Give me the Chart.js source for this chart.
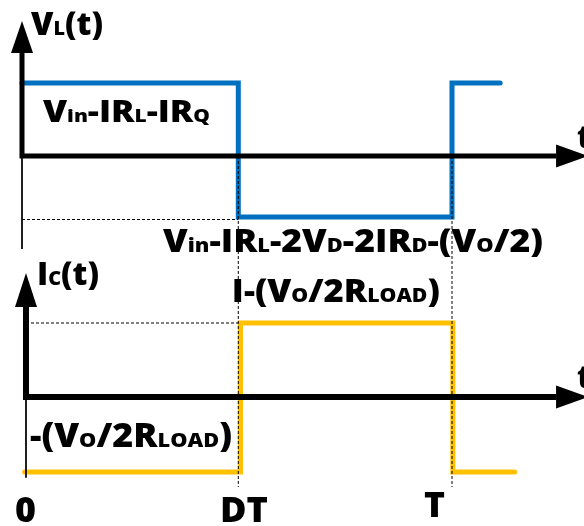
<!DOCTYPE html>
<html><head><meta charset="utf-8">
<script src="https://cdn.jsdelivr.net/npm/chart.js@4.4.1/dist/chart.umd.min.js"></script>
<style>html,body{margin:0;padding:0;background:#fff;overflow:hidden}canvas{display:block}</style>
</head><body>
<canvas id="c" width="584" height="526"></canvas>
<script>
// ---- data (time in units of the period T) ----
const vLTimes   = [0, 0.503, 1, 1.112];
const vLValues  = [1, -0.836, 1, 1];
const iCTimes   = [0.006, 0.508, 1.002, 1.146];
const iCValues  = [-1.014, 1.0, -1.014, -1.014];
const tickLabels = ['0', 'DT', 'T'];
const tickTimes  = [-0.0163, 0.4605, 0.935];

// ---- style constants ----
const BLUE = '#0070C0', YELLOW = '#FFC000', BLACK = '#000000';
const FONT = '"Open Sans"';
const WEIGHT = 800;
const SUB = 0.6;
const topAxisT = 0, botAxisT = 0.0093;
const axisEndT = 1.242, arrowTipT = 1.316;
const topArrowBaseV = 1.411, topArrowTipV = 1.849;
const botArrowBaseI = 1.216, botArrowTipI = 1.676;

function seg(points){ return points.map(p=>({x:p[0],y:p[1]})); }
function pts(ts, vs){ return ts.map((t,i)=>({x:t,y:vs[i]})); }

const lineDs = (data, yAxisID, color, width, extra) => Object.assign({
  type:'line', data, yAxisID, borderColor:color, borderWidth:width, pointRadius:0,
  fill:false, tension:0, clip:false, borderCapStyle:'butt', borderJoinStyle:'miter'
}, extra||{});

const datasets = [
  // guides
  lineDs(seg([[topAxisT,0],[topAxisT,-1.274]]), 'yV', BLACK, 1),
  lineDs(seg([[topAxisT,-0.87],[0.503,-0.87]]), 'yV', BLACK, 1.2, {borderDash:[3,2]}),
  lineDs(seg([[botAxisT,0],[botAxisT,-1.09]]), 'yI', BLACK, 1),
  lineDs(seg([[botAxisT,1.0],[0.503,1.0]]), 'yI', BLACK, 1.2, {borderDash:[3,2]}),
  lineDs(seg([[0.503,3.257],[0.503,-1.216]]), 'yI', BLACK, 1, {borderDash:[3,2]}),
  lineDs(seg([[1,3.257],[1,-1.216]]), 'yI', BLACK, 1, {borderDash:[3,2]}),
  // axes
  lineDs(seg([[topAxisT,topArrowBaseV],[topAxisT,0],[axisEndT,0]]), 'yV', BLACK, 5),
  lineDs(seg([[botAxisT,botArrowBaseI],[botAxisT,0],[axisEndT,0]]), 'yI', BLACK, 6),
  // waveforms
  lineDs(pts(vLTimes, vLValues), 'yV', BLUE, 5, {stepped:true, borderCapStyle:'round'}),
  lineDs(pts(iCTimes, iCValues), 'yI', YELLOW, 5, {stepped:true, borderCapStyle:'round'}),
];

const L = (segs, t, val, axis, size, width) => ({segs, t, val, axis, size, width});
const labels = [
  L([['V',0],['L',1],['(t)',0]], 0.0209, 1.658, 'yV', 31, 72),
  L([['V',0],['in',1],['-IR',0],['L',1],['-IR',0],['Q',1]], 0.0488, 0.466, 'yV', 30, 167),
  L([['V',0],['in',1],['-IR',0],['L',1],['-2V',0],['D',1],['-2IR',0],['D',1],['-(V',0],['O',1],['/2)',0]], 0.328, -1.315, 'yV', 31, 380),
  L([['t',0]], 1.2907, 0.1096, 'yV', 31, 0),
  L([['I',0],['C',1],['(t)',0]], 0.0349, 1.514, 'yI', 31, 62),
  L([['I-(V',0],['O',1],['/2R',0],['LOAD',1],[')',0]], 0.488, 1.284, 'yI', 31, 208),
  L([['-(V',0],['O',1],['/2R',0],['LOAD',1],[')',0]], 0.0186, -0.676, 'yI', 33, 202),
  L([['t',0]], 1.2907, 0.1216, 'yI', 31, 0),
  L([[tickLabels[0],0]], tickTimes[0], -1.689, 'yI', 36, 21),
  L([[tickLabels[1],0]], tickTimes[1], -1.689, 'yI', 36, 48),
  L([[tickLabels[2],0]], tickTimes[2], -1.622, 'yI', 35, 21),
];

function drawRich(ctx, segs, x, y, size, targetW){
  const fm = `${WEIGHT} ${size}px ${FONT}`, fs = `${WEIGHT} ${Math.round(size*SUB)}px ${FONT}`;
  let w = 0;
  for (const [s,sub] of segs){ ctx.font = sub?fs:fm; w += ctx.measureText(s).width; }
  const sx = targetW ? targetW / w : 1;
  ctx.save(); ctx.translate(x,y); ctx.scale(sx,1);
  ctx.fillStyle = BLACK; ctx.textBaseline = 'alphabetic'; ctx.textAlign='left';
  let cx = 0;
  for (const [s,sub] of segs){ ctx.font = sub?fs:fm; ctx.fillText(s,cx,0); cx += ctx.measureText(s).width; }
  ctx.restore();
}

const overlay = {
  id:'overlay',
  afterDatasetsDraw(chart){
    const {ctx, scales} = chart;
    const X = scales.x, YV = scales.yV, YI = scales.yI;
    const tri = (a,b,c)=>{ctx.beginPath();ctx.moveTo(a[0],a[1]);ctx.lineTo(b[0],b[1]);ctx.lineTo(c[0],c[1]);ctx.closePath();ctx.fill();};
    ctx.save(); ctx.fillStyle = BLACK;
    const hw = 11, hh = 11.5;
    let ax = X.getPixelForValue(topAxisT);
    tri([ax, YV.getPixelForValue(topArrowTipV)], [ax-hw, YV.getPixelForValue(topArrowBaseV)], [ax+hw, YV.getPixelForValue(topArrowBaseV)]);
    let ay = YV.getPixelForValue(0);
    tri([X.getPixelForValue(arrowTipT), ay], [X.getPixelForValue(axisEndT), ay-hh], [X.getPixelForValue(axisEndT), ay+hh]);
    ax = X.getPixelForValue(botAxisT);
    tri([ax, YI.getPixelForValue(botArrowTipI)], [ax-hw, YI.getPixelForValue(botArrowBaseI)], [ax+hw, YI.getPixelForValue(botArrowBaseI)]);
    ay = YI.getPixelForValue(0);
    tri([X.getPixelForValue(arrowTipT), ay], [X.getPixelForValue(axisEndT), ay-hh], [X.getPixelForValue(axisEndT), ay+hh]);
    ctx.restore();
    for (const lb of labels){
      const ys = lb.axis==='yV'?YV:YI;
      drawRich(ctx, lb.segs, X.getPixelForValue(lb.t), ys.getPixelForValue(lb.val), lb.size, lb.width);
    }
  }
};

new Chart(document.getElementById('c'), {
  type:'line',
  data:{datasets},
  options:{
    responsive:false, animation:false, events:[],
    layout:{padding:0},
    plugins:{legend:{display:false}, tooltip:{enabled:false}},
    scales:{
      x:{type:'linear', display:false, min:-22/430, max:562/430},
      yV:{type:'linear', display:false, min:(156-526)/73, max:156/73},
      yI:{type:'linear', display:false, min:(397-526)/74, max:397/74},
    }
  },
  plugins:[overlay]
});
</script>
</body></html>
